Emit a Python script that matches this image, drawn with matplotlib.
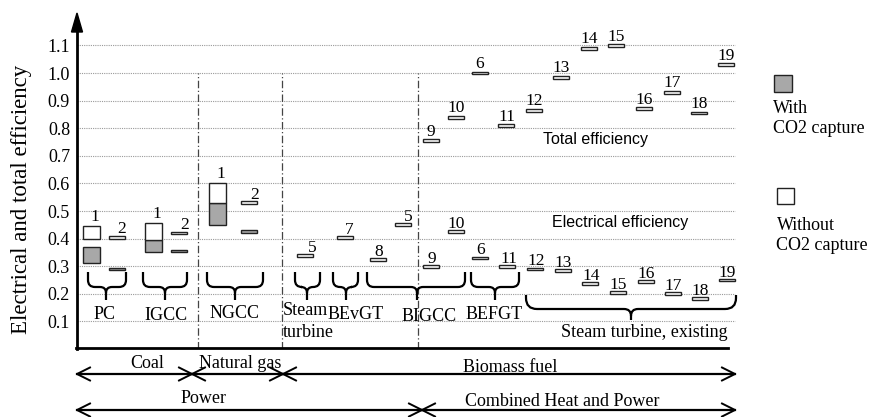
import matplotlib
matplotlib.use('Agg')
import matplotlib.pyplot as plt
import matplotlib.transforms as mtransforms
from matplotlib.patches import Rectangle, PathPatch, Polygon
from matplotlib.path import Path
from matplotlib.lines import Line2D

# ---------------- data ----------------
range_groups = ['PC', 'IGCC', 'NGCC']
with_capture_low = [0.31, 0.35, 0.45]
with_capture_high = [0.37, 0.395, 0.53]
without_capture_low = [0.40, 0.395, 0.53]
without_capture_high = [0.445, 0.455, 0.60]
case2_with = [0.29, 0.355, 0.425]
case2_without = [0.405, 0.42, 0.53]

elec_cases = ['5', '7', '8', '5', '9', '10', '6', '11', '12', '13',
              '14', '15', '16', '17', '18', '19']
elec_eff = [0.34, 0.405, 0.325, 0.45, 0.30, 0.425, 0.33, 0.30, 0.29, 0.285,
            0.237, 0.205, 0.245, 0.20, 0.183, 0.25]
total_cases = ['9', '10', '6', '11', '12', '13', '14', '15', '16', '17', '18', '19']
total_eff = [0.755, 0.84, 1.0, 0.81, 0.865, 0.985, 1.09, 1.10, 0.87, 0.93, 0.855, 1.03]

yticks = [0.1, 0.2, 0.3, 0.4, 0.5, 0.6, 0.7, 0.8, 0.9, 1.0, 1.1]
ytick_labels = ['0.1', '0.2', '0.3', '0.4', '0.5', '0.6', '0.7', '0.8', '0.9', '1.0', '1.1']

group_names = ['PC', 'IGCC', 'NGCC', 'BEvGT', 'BIGCC', 'BEFGT']
fuel_names = ['Coal', 'Natural gas', 'Biomass fuel']
use_names = ['Power', 'Combined Heat and Power']

# ---------------- layout (pixels) ----------------
W, H = 870, 417
box_x = [91, 153, 217]
case2_x = [116.5, 179, 249]
elec_x = [305, 345, 378.5, 403.5, 431, 456.5, 480.5, 507.5, 535.5, 563,
          590.5, 618.5, 646, 673.5, 700.5, 727.5]
elec_dx = [7, 4, 0, 5, 1, 0, 0, 1, 1, 0, 1, 0, 0, 0, 0, 0]
total_x = [431, 456.5, 480, 506.5, 534.5, 561.5, 589, 616.5, 644, 672.5, 699, 726.5]

SERIF = ['Liberation Serif', 'DejaVu Serif']
SANS = ['Liberation Sans', 'DejaVu Sans']
plt.rcParams['font.family'] = SERIF

fig = plt.figure(figsize=(8.7, 4.17), dpi=100)
x_left, x_right = 77, 740
y_zero = 349
scale = 276.0
ymax = 1.2
ax = fig.add_axes([x_left / W, 1 - y_zero / H,
                   (x_right - x_left) / W, ymax * scale / H])
ax.set_xlim(x_left, x_right)
ax.set_ylim(0, ymax)
for s in ax.spines.values():
    s.set_visible(False)
ax.set_xticks([])
ax.set_yticks(yticks)
ax.set_yticklabels(ytick_labels, fontsize=13)
ax.tick_params(axis='y', length=0, pad=5)
ax.patch.set_alpha(0)

# pixel transform (y downwards)
px = mtransforms.Affine2D().scale(1 / W, -1 / H).translate(0, 1) + fig.transFigure

# grid
ax.hlines(yticks, x_left, 735, colors='#9a9a9a', linewidth=0.8,
          linestyles=(0, (1, 1)), zorder=1, clip_on=False)
# vertical dash-dot separators
for xv in [198, 282, 418]:
    ax.vlines(xv, 0, 1.0, colors='#444444', linewidth=0.9,
              linestyles=(0, (6, 2, 1, 2)), zorder=1)

# axes lines
fig.add_artist(Line2D([77, 77], [349, 30], transform=px, color='black', lw=2.0))
fig.add_artist(Polygon([(71.5, 32), (82.5, 32), (77, 13)], closed=True,
                       transform=px, facecolor='black', edgecolor='black'))
fig.add_artist(Line2D([76, 728], [348, 348], transform=px, color='black', lw=2.0))

GRAY = '#a8a8a8'
EDGE = '#222222'
BW = 17
bh = 0.010

# ranges (boxes) for PC, IGCC, NGCC
for i in range(len(range_groups)):
    ax.add_patch(Rectangle((box_x[i] - BW / 2, with_capture_low[i]), BW,
                           with_capture_high[i] - with_capture_low[i],
                           facecolor=GRAY, edgecolor=EDGE, lw=1.0, zorder=3))
    ax.add_patch(Rectangle((box_x[i] - BW / 2, without_capture_low[i]), BW,
                           without_capture_high[i] - without_capture_low[i],
                           facecolor='white', edgecolor=EDGE, lw=1.0, zorder=3))
    ax.add_patch(Rectangle((case2_x[i] - 8, case2_with[i] - bh / 2), 16, bh,
                           facecolor=GRAY, edgecolor=EDGE, lw=1.0, zorder=3))
    ax.add_patch(Rectangle((case2_x[i] - 8, case2_without[i] - bh / 2), 16, bh,
                           facecolor='white', edgecolor=EDGE, lw=1.0, zorder=3))
    ax.annotate('1', (box_x[i], without_capture_high[i]), xytext=(3, 4),
                textcoords='offset points', ha='center', va='baseline', fontsize=12.5)
    ax.annotate('2', (case2_x[i], case2_without[i] + bh / 2), xytext=(4, 2),
                textcoords='offset points', ha='center', va='baseline', fontsize=12.5)

# electrical efficiency of biomass cases
for i, (lab, v) in enumerate(zip(elec_cases, elec_eff)):
    ax.add_patch(Rectangle((elec_x[i] - 8, v - bh / 2), 16, bh,
                           facecolor='white', edgecolor=EDGE, lw=1.0, zorder=3))
    ax.annotate(lab, (elec_x[i], v + bh / 2), xytext=(elec_dx[i] * 0.72, 1.5),
                textcoords='offset points', ha='center', va='baseline', fontsize=12.5)

# total efficiency
for i, (lab, v) in enumerate(zip(total_cases, total_eff)):
    ax.add_patch(Rectangle((total_x[i] - 8, v - bh / 2), 16, bh,
                           facecolor='white', edgecolor=EDGE, lw=1.0, zorder=3))
    ax.annotate(lab, (total_x[i], v + bh / 2), xytext=(0, 2.5),
                textcoords='offset points', ha='center', va='baseline', fontsize=12.5)

fig.text(596, 144, 'Total efficiency', transform=px, family=SANS, fontsize=11.5,
         ha='center', va='baseline')
fig.text(620, 227, 'Electrical efficiency', transform=px, family=SANS, fontsize=11.5,
         ha='center', va='baseline')


# braces
def brace(x0, x1, xt, ytop, ymid, ybot, r=7, rs=6):
    verts = [(x0, ytop), (x0, ymid - r), (x0, ymid), (x0 + r, ymid),
             (xt - rs, ymid), (xt, ymid), (xt, ymid + rs), (xt, ybot),
             (x1, ytop), (x1, ymid - r), (x1, ymid), (x1 - r, ymid),
             (xt + rs, ymid), (xt, ymid), (xt, ymid + rs)]
    codes = [Path.MOVETO, Path.LINETO, Path.CURVE3, Path.CURVE3,
             Path.LINETO, Path.CURVE3, Path.CURVE3, Path.LINETO,
             Path.MOVETO, Path.LINETO, Path.CURVE3, Path.CURVE3,
             Path.LINETO, Path.CURVE3, Path.CURVE3]
    fig.add_artist(PathPatch(Path(verts, codes), transform=px, fill=False,
                             edgecolor='black', lw=1.6))


brace(88, 126, 106, 272, 287, 300)
brace(143, 187, 165, 272, 287, 300)
brace(207, 263, 235, 272, 287, 300)
brace(295, 320, 307, 272, 287, 300)
brace(333, 358, 346, 272, 287, 300)
brace(367, 465, 417, 272, 287, 300)
brace(471, 519, 495, 272, 287, 300)
brace(526, 736, 631, 295, 309, 320, r=11, rs=7)

# group labels
gx = [105, 166, 235, 356, 429, 494]
gy = [319, 320, 318, 319, 321, 319]
for name, x, y in zip(group_names, gx, gy):
    fig.text(x, y, name, transform=px, fontsize=13, ha='center', va='baseline')
fig.text(283, 315, 'Steam', transform=px, fontsize=13, ha='left', va='baseline')
fig.text(283, 337, 'turbine', transform=px, fontsize=13, ha='left', va='baseline')
fig.text(728, 337, 'Steam turbine, existing', transform=px, fontsize=13,
         ha='right', va='baseline')


# bottom arrows
def dbl_arrow(xa, xb, y, L=13, w=6.5):
    fig.add_artist(Line2D([xa, xb], [y, y], transform=px, color='black', lw=1.6))
    fig.add_artist(Line2D([xa + L, xa, xa + L], [y - w, y, y + w], transform=px,
                          color='black', lw=1.4))
    fig.add_artist(Line2D([xb - L, xb, xb - L], [y - w, y, y + w], transform=px,
                          color='black', lw=1.4))


dbl_arrow(77, 192, 374)
dbl_arrow(192, 283, 374)
dbl_arrow(283, 735, 374)
dbl_arrow(77, 422, 410)
dbl_arrow(422, 735, 410)

fig.text(147, 368, fuel_names[0], transform=px, fontsize=13, ha='center', va='baseline')
fig.text(240, 368, fuel_names[1], transform=px, fontsize=13, ha='center', va='baseline')
fig.text(510, 372, fuel_names[2], transform=px, fontsize=13, ha='center', va='baseline')
fig.text(204, 403, use_names[0], transform=px, fontsize=13, ha='center', va='baseline')
fig.text(562, 406, use_names[1], transform=px, fontsize=13, ha='center', va='baseline')

# legend
fig.add_artist(Rectangle((774, 75), 18, 17, transform=px, facecolor=GRAY,
                         edgecolor=EDGE, lw=1.0))
fig.add_artist(Rectangle((777, 188), 17, 16, transform=px, facecolor='white',
                         edgecolor=EDGE, lw=1.0))
fig.text(773, 113, 'With', transform=px, fontsize=13, ha='left', va='baseline')
fig.text(773, 133, 'CO2 capture', transform=px, fontsize=13, ha='left', va='baseline')
fig.text(777, 230, 'Without', transform=px, fontsize=13, ha='left', va='baseline')
fig.text(776, 250, 'CO2 capture', transform=px, fontsize=13, ha='left', va='baseline')

# y label
fig.text(22, 199, 'Electrical and total efficiency', transform=px, fontsize=16.5,
         rotation=90, ha='center', va='center')

fig.savefig('out.png', dpi=100)
